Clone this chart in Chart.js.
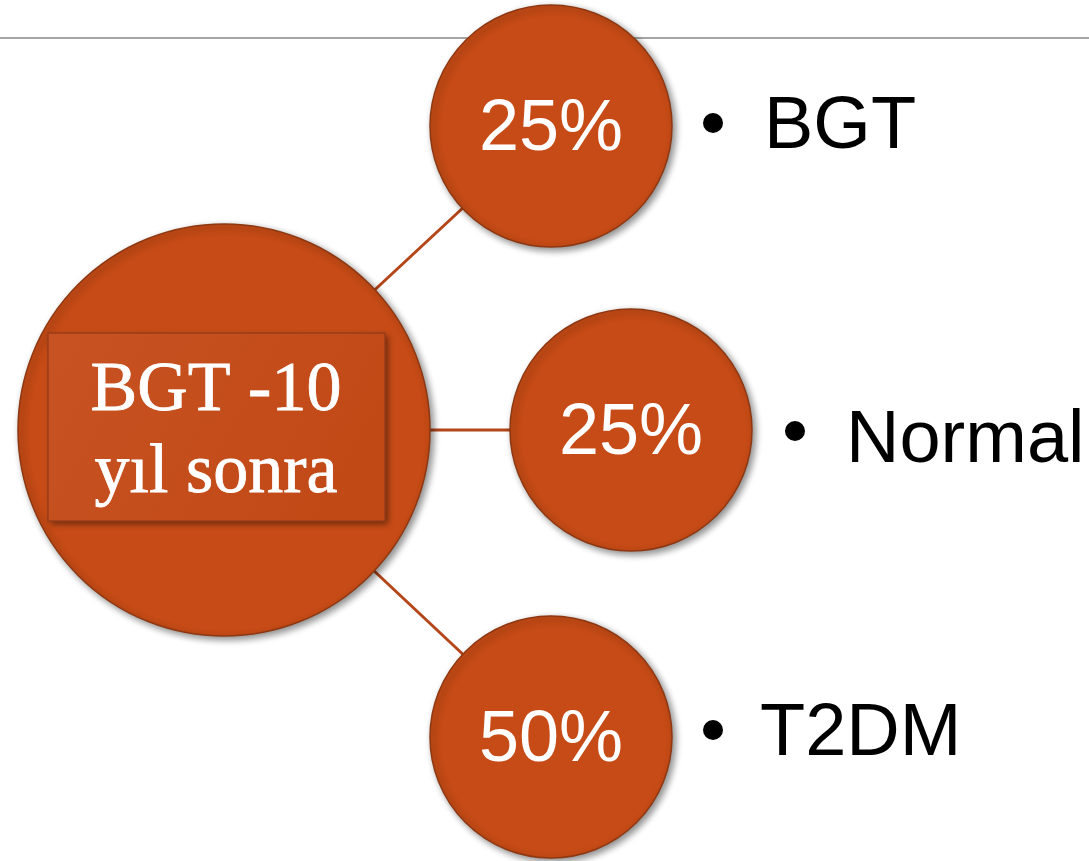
<!DOCTYPE html>
<html>
<head>
<meta charset="utf-8">
<script src="https://cdn.jsdelivr.net/npm/chart.js@4/dist/chart.umd.min.js"></script>
<style>
  html, body { margin: 0; padding: 0; background: #ffffff; }
  #wrap { width: 1089px; height: 861px; position: relative; }
</style>
</head>
<body>
<div id="wrap"><canvas id="chartBgt"></canvas></div>
<script>
// data
var centerLines = ['BGT -10', 'yıl sonra'];
var outcomes = ['BGT', 'Normal', 'T2DM'];
var percents = [25, 25, 50];

// layout (pixel space of the 1089x861 canvas)
var hubPos = { x: 224, y: 430, r: 206 };
var nodeX = [551, 631, 551];
var nodeY = [126, 430, 737];
var nodeR = 121;
var bulletX = [713, 795, 713];
var bulletY = [123, 431, 730];
var labelX = [764, 846, 760];
var labelY = [148, 462, 755];

var orange = '#C64B16';
var lineColor = '#B4461A';

function $each(arr, fn) {
    for (var i = 0; i < arr.length; i++) fn(arr[i], i);
}

function buildNodes() {
    var pts = [{ x: hubPos.x, y: hubPos.y, r: hubPos.r }];
    $each(percents, function (v, i) {
        pts.push({ x: nodeX[i], y: nodeY[i], r: nodeR });
    });
    return pts;
}

function buildLinks() {
    var sets = [];
    $each(percents, function (v, i) {
        sets.push({
            type: 'line',
            data: [{ x: hubPos.x, y: hubPos.y }, { x: nodeX[i], y: nodeY[i] }],
            borderColor: lineColor,
            borderWidth: 3,
            pointRadius: 0,
            showLine: true,
            order: 2
        });
    });
    return sets;
}

var shadowPlugin = {
    id: 'shadow',
    beforeDatasetDraw: function (chart, args) {
        if (chart.data.datasets[args.index].type !== 'bubble') return;
        var ctx = chart.ctx;
        ctx.save();
        ctx.shadowColor = 'rgba(0,0,0,0.45)';
        ctx.shadowBlur = 7;
        ctx.shadowOffsetX = 3;
        ctx.shadowOffsetY = 3;
    },
    afterDatasetDraw: function (chart, args) {
        if (chart.data.datasets[args.index].type !== 'bubble') return;
        chart.ctx.restore();
    }
};

var decorPlugin = {
    id: 'decor',
    beforeDatasetsDraw: function (chart) {
        var ctx = chart.ctx;
        var sy = chart.scales.y;
        var yy = Math.round(sy.getPixelForValue(37.5));
        ctx.save();
        ctx.strokeStyle = '#a6a6a6';
        ctx.lineWidth = 2;
        ctx.beginPath();
        ctx.moveTo(0, yy);
        ctx.lineTo(chart.width, yy);
        ctx.stroke();
        ctx.restore();
    },
    afterDatasetsDraw: function (chart) {
        var ctx = chart.ctx;
        var sx = chart.scales.x, sy = chart.scales.y;

        // label box on the hub
        var bx = sx.getPixelForValue(48), by = sy.getPixelForValue(333);
        var bw = sx.getPixelForValue(385) - bx, bh = sy.getPixelForValue(521) - by;
        ctx.save();
        ctx.shadowColor = 'rgba(0,0,0,0.45)';
        ctx.shadowBlur = 6;
        ctx.shadowOffsetX = 3;
        ctx.shadowOffsetY = 3;
        var g = ctx.createLinearGradient(bx, by, bx + bw, by + bh);
        g.addColorStop(0, '#C85222');
        g.addColorStop(1, '#C04815');
        ctx.fillStyle = g;
        ctx.fillRect(bx, by, bw, bh);
        ctx.restore();
        ctx.save();
        ctx.strokeStyle = 'rgba(150,60,25,0.9)';
        ctx.lineWidth = 1.5;
        ctx.strokeRect(bx, by, bw, bh);
        ctx.restore();

        ctx.save();
        ctx.fillStyle = '#ffffff';
        ctx.strokeStyle = '#ffffff';
        ctx.lineWidth = 0.8;
        ctx.textAlign = 'center';
        ctx.textBaseline = 'alphabetic';
        ctx.font = '70px "Liberation Serif", "Times New Roman", serif';
        var cx = sx.getPixelForValue(216);
        $each(centerLines, function (t, i) {
            var ty = sy.getPixelForValue(i === 0 ? 410 : 492);
            ctx.fillText(t, cx, ty);
            ctx.strokeText(t, cx, ty);
        });

        // percentages in the nodes
        ctx.font = '72px "Liberation Sans", Arial, sans-serif';
        $each(percents, function (v, i) {
            ctx.fillText(v + '%', sx.getPixelForValue(nodeX[i]), sy.getPixelForValue(nodeY[i] + 24));
        });

        // outcome labels
        ctx.fillStyle = '#000000';
        ctx.textAlign = 'left';
        ctx.font = '74px "Liberation Sans", Arial, sans-serif';
        $each(outcomes, function (name, i) {
            ctx.beginPath();
            ctx.arc(sx.getPixelForValue(bulletX[i]), sy.getPixelForValue(bulletY[i]), 10, 0, Math.PI * 2);
            ctx.fill();
            ctx.fillText(name, sx.getPixelForValue(labelX[i]), sy.getPixelForValue(labelY[i]));
        });
        ctx.restore();
    }
};

var datasets = buildLinks();
datasets.push({
    type: 'bubble',
    data: buildNodes(),
    backgroundColor: orange,
    borderColor: '#8E3812',
    borderWidth: 1.5,
    hoverRadius: 0,
    order: 1
});

new Chart(document.getElementById('chartBgt'), {
    data: { datasets: datasets },
    options: {
        responsive: true,
        maintainAspectRatio: false,
        animation: false,
        events: [],
        layout: { padding: 0, autoPadding: false },
        clip: false,
        plugins: { legend: { display: false }, tooltip: { enabled: false } },
        scales: {
            x: { type: 'linear', min: 0, max: 1089, display: false },
            y: { type: 'linear', min: 0, max: 861, reverse: true, display: false }
        }
    },
    plugins: [decorPlugin, shadowPlugin]
});
</script>
</body>
</html>
